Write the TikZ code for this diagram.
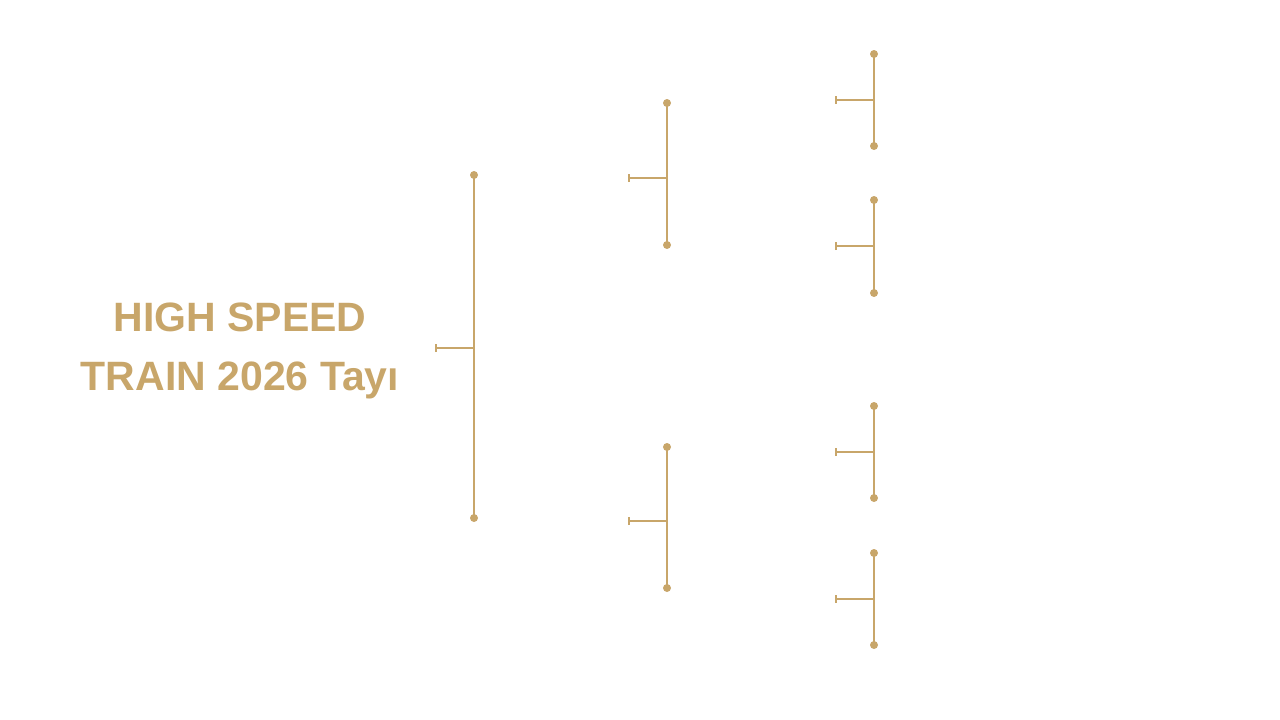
\documentclass[tikz,border=0pt]{standalone}
\usepackage{fontspec}
\setmainfont{Liberation Sans}
\definecolor{gold}{HTML}{C8A66A}
\tikzset{
  br/.style={draw=gold,line width=1.8pt},
  tk/.style={draw=gold,line width=1.5pt},
  dotc/.style={fill=gold},
}
\newcommand{\bracketdraw}[5]{% name, x, ytop, ybot, ytick
  \coordinate (#1t) at (#2,#3);
  \coordinate (#1b) at (#2,#4);
  \coordinate (#1m) at (#2,#5);
  \coordinate (#1e) at (#2-38,#5);
  \draw[br] (#1t) -- (#1b);
  \draw[tk] (#1m) -- (#1e);
  \draw[tk] ([yshift=-4]#1e) -- ([yshift=4]#1e);
  \fill[dotc] (#1t) circle (4);
  \fill[dotc] (#1b) circle (4);
}
\begin{document}
\begin{tikzpicture}[x=1pt,y=-1pt]
\useasboundingbox (0,0) rectangle (1280,720);
\node[text=gold,font=\fontsize{41}{59}\selectfont\bfseries,align=center] (title) at (240,351) {HIGH SPEED\\TRAIN 2026 Tayı};
\bracketdraw{a}{474}{175}{518}{348}
\bracketdraw{b}{667}{103}{245}{178}
\bracketdraw{c}{667}{447}{588}{521}
\bracketdraw{d}{874}{54}{146}{100}
\bracketdraw{e}{874}{200}{293}{246}
\bracketdraw{f}{874}{406}{498}{452}
\bracketdraw{g}{874}{553}{645}{599}
\end{tikzpicture}
\end{document}
